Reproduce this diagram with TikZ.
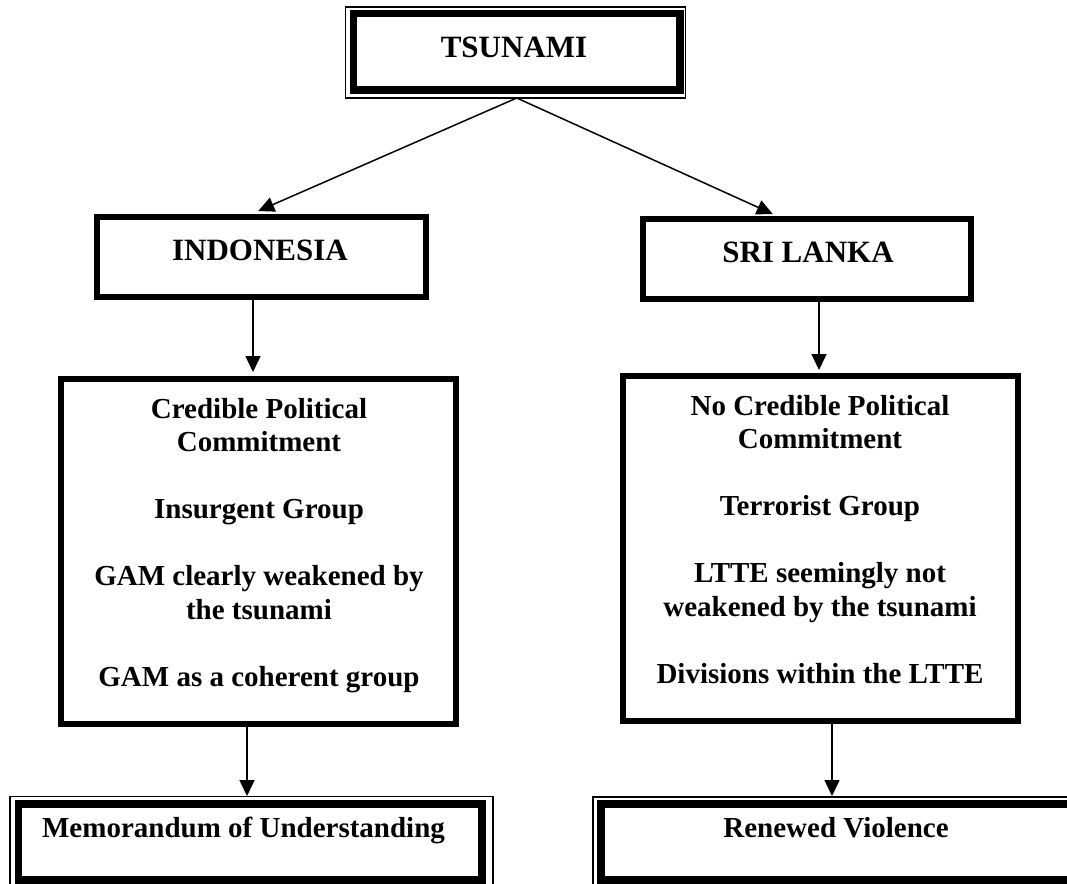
\documentclass[tikz,border=0pt]{standalone}
\usepackage{fontspec}
\setmainfont{Liberation Serif}
\usetikzlibrary{arrows.meta}
\begin{document}
\begin{tikzpicture}[x=1pt,y=-1pt,
  box/.style={draw, line width=6pt, inner sep=0pt, outer sep=0pt},
  dbox/.style={draw, line width=7.5pt, inner sep=0pt, outer sep=0pt},
  frame/.style={draw, line width=1.4pt},
  title/.style={font=\fontsize{31}{36}\selectfont\bfseries, inner sep=0pt, anchor=base},
  body/.style={font=\fontsize{29}{33.5}\selectfont\bfseries, inner sep=0pt, anchor=base, align=center},
  arr/.style={line width=1.5pt, -{Triangle[length=16pt,width=15pt]}}]
\useasboundingbox (0,0) rectangle (1067,883);
\clip (0,0) rectangle (1067,883);
% boxes
\node[dbox, minimum width=326.5pt, minimum height=76.5pt] (ts) at (516.75,51.75) {};
\draw[frame] ([shift={(-8,-6.5)}]ts.north west) rectangle ([shift={(5.5,8)}]ts.south east);
\node[box, minimum width=328.5pt, minimum height=80pt] (indo) at (261.25,257) {};
\node[box, minimum width=328.5pt, minimum height=80pt] (sri) at (806.75,259) {};
\node[box, minimum width=395pt, minimum height=344.5pt] (lbig) at (258.5,551.25) {};
\node[box, minimum width=395pt, minimum height=344.5pt] (rbig) at (820,548.25) {};
\node[dbox, minimum width=463.5pt, minimum height=76pt] (mou) at (250.25,842) {};
\draw[frame] ([shift={(-8.5,-7.5)}]mou.north west) rectangle ([shift={(11,10)}]mou.south east);
\node[dbox, minimum width=500pt, minimum height=76pt] (rv) at (851,842) {};
\draw[frame] ([shift={(-8,-7)}]rv.north west) rectangle ([shift={(8,10)}]rv.south east);
% texts
\node[title] (tst) at (514,57) {TSUNAMI};
\node[title] (indot) at (260,260) {INDONESIA};
\node[title] (srit) at (808,262) {SRI LANKA};
\node[body] (lbigt) at (259,686) {Credible Political\\Commitment\\[33.5pt]Insurgent Group\\[33.5pt]GAM clearly weakened by\\the tsunami\\[33.5pt]GAM as a coherent group};
\node[body] (rbigt) at (820,683) {No Credible Political\\Commitment\\[33.5pt]Terrorist Group\\[33.5pt]LTTE seemingly not\\weakened by the tsunami\\[33.5pt]Divisions within the LTTE};
\node[body] (mout) at (243.5,837) {Memorandum of Understanding};
\node[body] (rvt) at (836,837) {Renewed Violence};
% connectors
\coordinate (tsb) at ([shift={(0,8)}]ts.south);
\draw[arr] (tsb) -- ([shift={(-3,-6)}]indo.north);
\draw[arr] (tsb) -- ([shift={(-34,-5)}]sri.north);
\draw[arr] ([shift={(-8.25,3)}]indo.south) -- ([shift={(-5.5,-7)}]lbig.north);
\draw[arr] ([shift={(12.25,3)}]sri.south) -- ([shift={(-1,-6)}]rbig.north);
\draw[arr] ([shift={(-11.5,3.5)}]lbig.south) -- ([shift={(-3.25,-8)}]mou.north);
\draw[arr] ([shift={(12,3)}]rbig.south) -- ([shift={(-19,-8)}]rv.north);
\end{tikzpicture}
\end{document}
